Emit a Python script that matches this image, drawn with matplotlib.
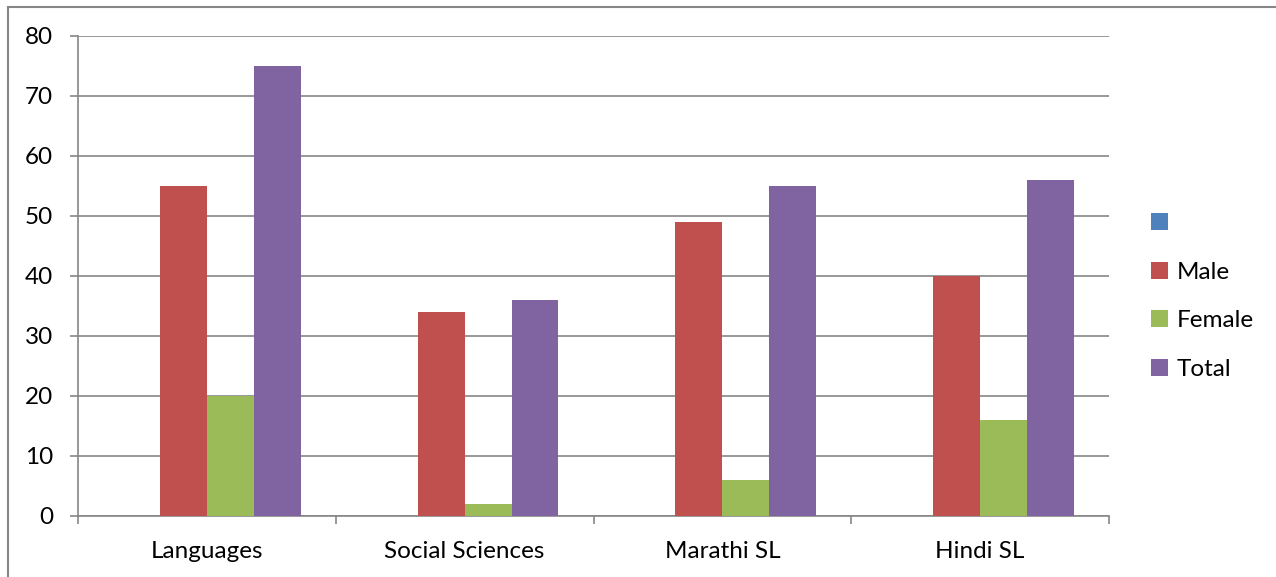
import numpy as np
import matplotlib.pyplot as plt
from matplotlib.patches import Rectangle, Patch

plt.rcParams['font.family'] = ['Lato', 'DejaVu Sans']

# data
categories = ['Languages', 'Social Sciences', 'Marathi SL', 'Hindi SL']
series_names = [' ', 'Male', 'Female', 'Total']
blank = [0, 0, 0, 0]
male = [55, 34, 49, 40]
female = [20, 2, 6, 16]
total = [75, 36, 55, 56]
yticks = [0, 10, 20, 30, 40, 50, 60, 70, 80]

colors = ['#4F81BD', '#C0504D', '#9BBB59', '#8064A2']
grid_col = '#868686'
fs = 17.5

fig = plt.figure(figsize=(12.76, 5.77), dpi=100)
ax = fig.add_axes([78 / 1276, 61 / 577, 1031 / 1276, 480 / 577])

x = np.arange(len(categories))
w = 0.182
for i, vals in enumerate([blank, male, female, total]):
    ax.bar(x + (i - 1.5) * w, vals, width=w, color=colors[i], zorder=3)

ax.set_xlim(-0.5, len(categories) - 0.5)
ax.set_ylim(0, 80)
ax.set_yticks(yticks)
ax.set_xticks(x)
ax.set_xticklabels(categories)
ax.set_xticks(np.arange(-0.5, len(categories)), minor=True)

ax.yaxis.grid(True, color=grid_col, linewidth=1.2, zorder=0)
ax.tick_params(axis='y', length=6, width=1.2, color=grid_col, pad=12, labelsize=fs)
ax.tick_params(axis='x', which='major', length=0, pad=18, labelsize=fs)
ax.tick_params(axis='x', which='minor', length=6, width=1.2, color=grid_col)

for s in ['top', 'right']:
    ax.spines[s].set_visible(False)
for s in ['left', 'bottom']:
    ax.spines[s].set_color(grid_col)
    ax.spines[s].set_linewidth(1.2)

handles = [Patch(facecolor=c) for c in colors]
fig.legend(handles, series_names, loc='center left',
           bbox_to_anchor=(1151 / 1276, 0.486), frameon=False,
           fontsize=fs, handlelength=0.7, handleheight=0.7,
           handletextpad=0.35, labelspacing=1.13, borderpad=0,
           borderaxespad=0)

# outer chart border (clipped at right and bottom)
fig.patches.append(Rectangle((8 / 1276, -0.1), 1.2, (570 / 577) + 0.1,
                             transform=fig.transFigure, fill=False,
                             edgecolor=grid_col, linewidth=1.5))

fig.savefig('out.png', dpi=100)
